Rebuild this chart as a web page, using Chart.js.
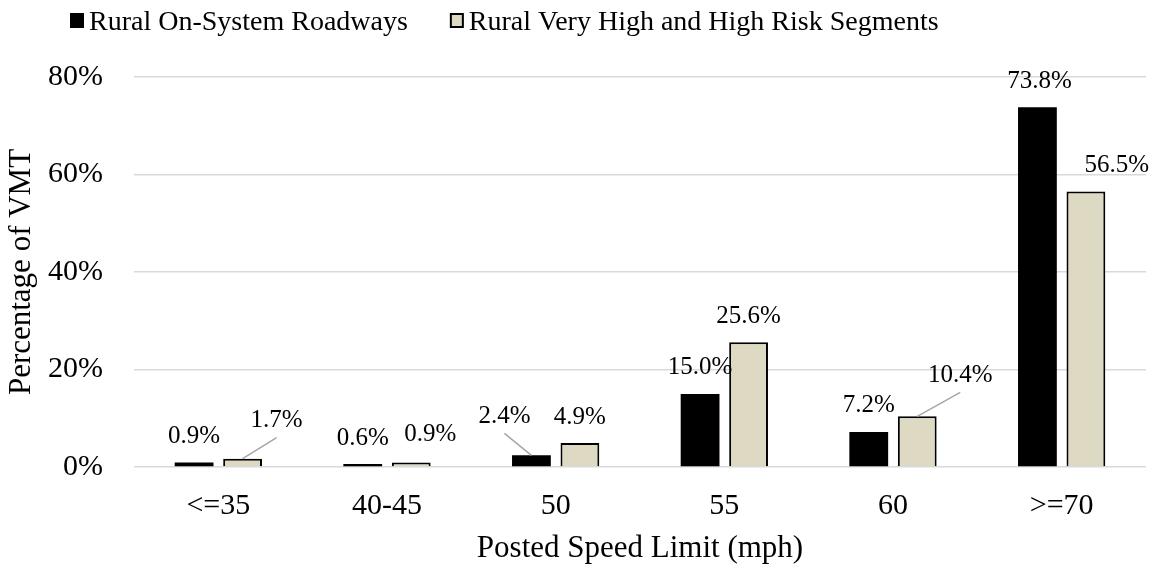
<!DOCTYPE html>
<html>
<head>
<meta charset="utf-8">
<script src="https://cdn.jsdelivr.net/npm/chart.js@4.4.1/dist/chart.umd.min.js"></script>
<style>
  html, body { margin: 0; padding: 0; background: #ffffff; }
  #c { display: block; }
</style>
</head>
<body>
<canvas id="c" width="1157" height="569"></canvas>
<script>
// Share of vehicle miles travelled by posted speed limit
const categories = ['<=35', '40-45', '50', '55', '60', '>=70'];
const ruralOnSystem = [0.9, 0.6, 2.4, 15.0, 7.2, 73.8];
const ruralHighRisk = [1.7, 0.9, 4.9, 25.6, 10.4, 56.5];
const seriesNames = ['Rural On-System Roadways', 'Rural Very High and High Risk Segments'];
const yTickValues = [0, 20, 40, 60, 80];

// Pixel nudges [dx, dy] for value labels that sit beside their bar
const labelNudge = [
  [[0, 0], [0, 0], [-27, -13], [0, 0], [0, 0], [2, 0]],
  [[34, -12], [19, -2], [0, 0], [0, 0], [43, -15], [31, 0]]
];
// Labels moved off their bar get a thin leader line back to it
const withLeader = [
  [false, false, true, false, false, false],
  [true, false, false, false, true, false]
];

const FONT = '"Liberation Serif", "Times New Roman", serif';
Chart.defaults.font.family = FONT;
Chart.defaults.color = '#000000';

const valueLabels = {
  id: 'valueLabels',
  afterDatasetsDraw(chart) {
    const ctx = chart.ctx;
    ctx.save();
    ctx.font = '25px ' + FONT;
    ctx.textAlign = 'center';
    ctx.textBaseline = 'middle';
    chart.data.datasets.forEach((ds, di) => {
      const meta = chart.getDatasetMeta(di);
      meta.data.forEach((bar, i) => {
        const [dx, dy] = labelNudge[di][i];
        const x = bar.x + dx;
        const y = bar.y - 26 + dy;
        if (withLeader[di][i]) {
          ctx.strokeStyle = '#a6a6a6';
          ctx.lineWidth = 1.5;
          ctx.beginPath();
          ctx.moveTo(x, y + 17);
          ctx.lineTo(bar.x, bar.y);
          ctx.stroke();
        }
        ctx.fillStyle = '#000000';
        ctx.fillText(ds.data[i].toFixed(1) + '%', x, y);
      });
    });
    ctx.restore();
  }
};

const legendRow = {
  id: 'legendRow',
  afterDraw(chart) {
    const ctx = chart.ctx;
    ctx.save();
    ctx.font = '28px ' + FONT;
    ctx.textAlign = 'left';
    ctx.textBaseline = 'alphabetic';
    let x = 70;
    chart.data.datasets.forEach((ds) => {
      ctx.fillStyle = ds.backgroundColor;
      ctx.fillRect(x, 13, 14, 15);
      if (ds.borderWidth > 0) {
        ctx.strokeStyle = ds.borderColor;
        ctx.lineWidth = 2;
        ctx.strokeRect(x + 1, 14, 12, 13);
      }
      ctx.fillStyle = '#000000';
      ctx.fillText(ds.label, x + 19, 30);
      x += 19 + ctx.measureText(ds.label).width + 42;
    });
    ctx.restore();
  }
};

new Chart(document.getElementById('c'), {
  type: 'bar',
  data: {
    labels: categories,
    datasets: [
      {
        label: seriesNames[0],
        data: ruralOnSystem,
        backgroundColor: '#000000',
        borderColor: '#000000',
        borderWidth: 0,
        categoryPercentage: 0.575,
        barPercentage: 0.8
      },
      {
        label: seriesNames[1],
        data: ruralHighRisk,
        backgroundColor: '#ddd9c3',
        borderColor: '#000000',
        borderWidth: 2,
        categoryPercentage: 0.575,
        barPercentage: 0.8
      }
    ]
  },
  options: {
    responsive: false,
    animation: false,
    devicePixelRatio: 1,
    layout: { padding: { top: 77, right: 11, left: 0, bottom: 0 } },
    plugins: {
      legend: { display: false },
      tooltip: { enabled: false }
    },
    scales: {
      y: {
        min: 0,
        max: 80,
        afterBuildTicks: (s) => { s.ticks = yTickValues.map(v => ({ value: v })); },
        ticks: {
          callback: (v) => v + '%',
          font: { size: 30 },
          color: '#000000',
          padding: 31
        },
        grid: { color: '#d9d9d9', lineWidth: 1.5, drawTicks: false },
        border: { display: false },
        title: {
          display: true,
          text: 'Percentage of VMT',
          font: { size: 31 },
          color: '#000000',
          padding: { top: 3, bottom: 0 }
        },
        afterFit: (s) => { s.width = 134; }
      },
      x: {
        grid: { display: false, drawTicks: false },
        border: { display: false },
        ticks: {
          font: { size: 30 },
          color: '#000000',
          padding: 21
        },
        title: {
          display: true,
          text: 'Posted Speed Limit (mph)',
          font: { size: 31 },
          color: '#000000',
          padding: { top: 0, bottom: 2 }
        },
        afterFit: (s) => { s.height = 102; }
      }
    }
  },
  plugins: [valueLabels, legendRow]
});
</script>
</body>
</html>
